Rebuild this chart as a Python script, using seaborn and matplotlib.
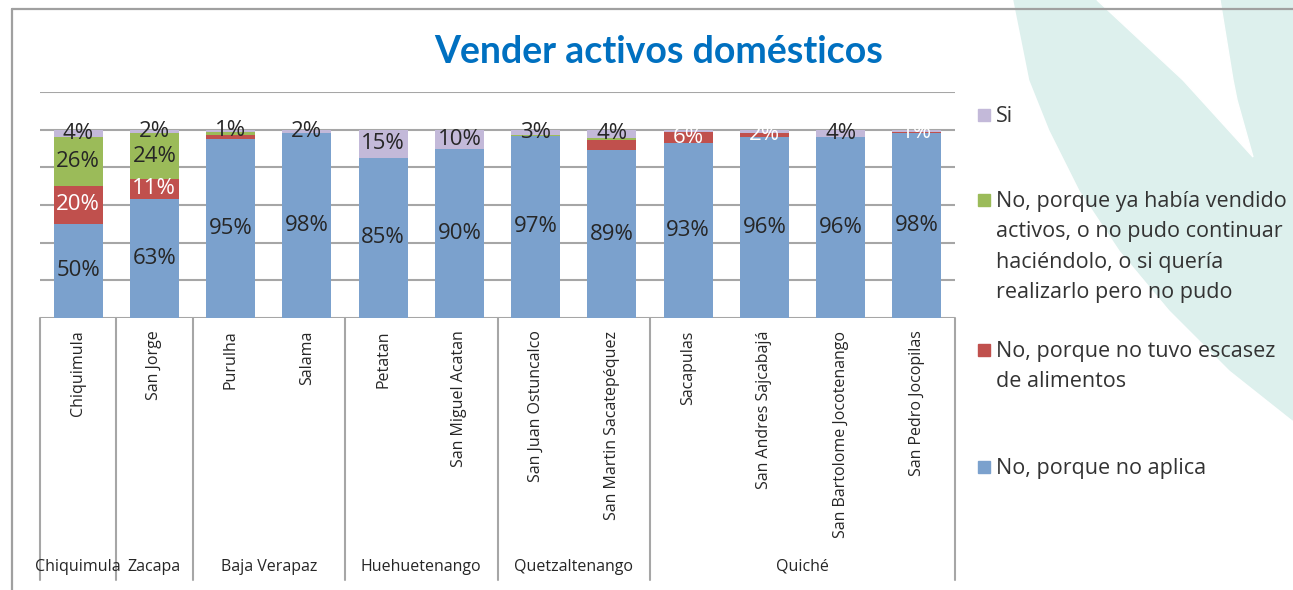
import numpy as np
import seaborn as sns
import matplotlib.pyplot as plt
from matplotlib.patches import Polygon, Rectangle
from matplotlib.transforms import blended_transform_factory

# data
municipios = ["Chiquimula", "San Jorge", "Purulha", "Salama", "Petatan",
              "San Miguel Acatan", "San Juan Ostuncalco", "San Martin Sacatepéquez",
              "Sacapulas", "San Andres Sajcabajá", "San Bartolome Jocotenango",
              "San Pedro Jocopilas"]
departamentos = ["Chiquimula", "Zacapa", "Baja Verapaz", "Huehuetenango",
                 "Quetzaltenango", "Quiché"]
n_por_depto = [1, 1, 2, 2, 2, 4]

no_aplica = [50, 63, 95, 98, 85, 90, 96.8, 89, 93, 96, 96, 98]
no_escasez = [20, 11, 2.4, 0, 0, 0, 0, 5.6, 5.6, 2.4, 0, 1]
no_vendido = [26, 24, 1.4, 0, 0, 0, 0.6, 1.2, 0, 0, 0, 0]
si = [4, 2, 1.2, 2, 15, 10, 2.6, 4.2, 1.4, 1.6, 4, 1]

# which data labels are shown in the original
show_aplica = [1] * 12
show_escasez = [1, 1, 0, 0, 0, 0, 0, 0, 1, 1, 0, 1]
show_vendido = [1, 1, 0, 0, 0, 0, 0, 0, 0, 0, 0, 0]
show_si = [1, 1, 1, 1, 1, 1, 1, 1, 0, 0, 1, 0]

series_names = ["Si",
                "No, porque ya había vendido\nactivos, o no pudo continuar\nhaciéndolo, o si quería\nrealizarlo pero no pudo",
                "No, porque no tuvo escasez\nde alimentos",
                "No, porque no aplica"]

c_blue, c_red, c_green, c_purple = "#7BA1CD", "#C0504D", "#9BBB59", "#C3B9D9"

sns.set_style("white")
plt.rcParams['font.family'] = ['Open Sans', 'DejaVu Sans']

fig = plt.figure(figsize=(12.93, 5.9), dpi=100)
W, H = 1293, 590

def fx(x):
    return x / W

def fy(y):
    return 1 - y / H

# decorative background leaf
leaf = [(1014, 0), (1022, 40), (1030, 80), (1050, 130), (1080, 190), (1120, 250),
        (1170, 310), (1230, 370), (1293, 420), (1293, 0)]
fig.patches.append(Polygon([(fx(x), fy(y)) for x, y in leaf], closed=True,
                           transform=fig.transFigure, color="#DDF0ED", zorder=0))
wedge = [(1097, 0), (1140, 40), (1183, 80), (1253, 157), (1237, 100), (1233, 80), (1220, 0)]
fig.patches.append(Polygon([(fx(x), fy(y)) for x, y in wedge], closed=True,
                           transform=fig.transFigure, color="white", zorder=0))
# outer frame
fig.add_artist(plt.Line2D([fx(12), 1], [fy(9), fy(9)], color="#A0A0A0", lw=1.6))
fig.add_artist(plt.Line2D([fx(12), fx(12)], [fy(9), 0], color="#A0A0A0", lw=1.6))

ax = fig.add_axes([fx(40), fy(318), fx(955) - fx(40), (318 - 92) / H])

# cumulative stacks, drawn from the top down
b = np.array(no_aplica)
r = b + np.array(no_escasez)
g = r + np.array(no_vendido)
t = g + np.array(si)
for cum, col in [(t, c_purple), (g, c_green), (r, c_red), (b, c_blue)]:
    sns.barplot(x=municipios, y=cum, color=col, saturation=1, width=0.64,
                linewidth=0, errorbar=None, ax=ax)

ax.set_ylim(0, 120)
ax.set_xlim(-0.5, len(municipios) - 0.5)
ax.set_yticks(range(0, 121, 20))
ax.set_yticklabels([])
ax.yaxis.grid(True, color="#A6A6A6", lw=1.5)
ax.set_axisbelow(True)
for s in ax.spines.values():
    s.set_visible(False)
ax.tick_params(axis="both", length=0)
ax.tick_params(axis="x", pad=9)
ax.set_xticks(range(len(municipios)))
ax.set_xticklabels(municipios, rotation=90, fontsize=11.5, color="#262626")
ax.set_xlabel("")
ax.set_ylabel("")

# data labels
layers = [(no_aplica, b, show_aplica, "#262626"),
          (no_escasez, r, show_escasez, "white"),
          (no_vendido, g, show_vendido, "#262626"),
          (si, t, show_si, "#262626")]
for vals, top, show, tc in layers:
    for i, (v, tp, sh) in enumerate(zip(vals, top, show)):
        if sh:
            ax.text(i, tp - v / 2, f"{v:.0f}%", ha="center", va="center",
                    fontsize=16, color=tc)

# multi-level category axis
trans = blended_transform_factory(ax.transData, ax.transAxes)
bounds = np.concatenate([[0], np.cumsum(n_por_depto)]) - 0.5
for xb in bounds:
    ax.plot([xb, xb], [0, -1.16], color="#A6A6A6", lw=1.5, transform=trans, clip_on=False)
for name, lo, hi in zip(departamentos, bounds[:-1], bounds[1:]):
    ax.text((lo + hi) / 2, -1.10, name, ha="center", va="center", fontsize=11.5,
            color="#262626", transform=trans)

# title
fig.text(fx(659), fy(52), "Vender activos domésticos", ha="center", va="center",
         fontsize=27, fontweight="bold", color="#0070C0", family="Lato")

# legend
leg_y = [115, 200, 350, 467]
leg_cols = [c_purple, c_green, c_red, c_blue]
for name, y, col in zip(series_names, leg_y, leg_cols):
    fig.patches.append(Rectangle((fx(978), fy(y + 6)), fx(12), 12 / H, color=col,
                                 transform=fig.transFigure))
    fig.text(fx(996), fy(y - 9), name, ha="left", va="top", fontsize=15.5,
             color="#333333", linespacing=1.58)

fig.savefig("out.png", dpi=100)
